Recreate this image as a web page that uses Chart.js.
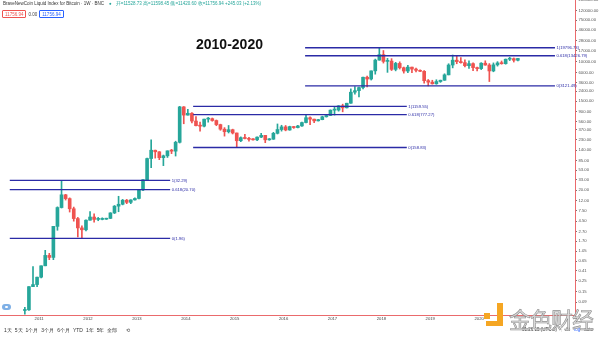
<!DOCTYPE html>
<html>
<head>
<meta charset="utf-8">
<script src="https://cdn.jsdelivr.net/npm/chart.js@4.4.0/dist/chart.umd.min.js"></script>
<style>
    html, body { margin: 0; padding: 0; background: #fff; }
    #wrap {
        position: relative; width: 600px; height: 337px; overflow: hidden;
        font-family: "Liberation Sans", Arial, sans-serif;
    }
    #chart { position: absolute; left: 0; top: 0; }
    .abs { position: absolute; white-space: nowrap; }
    .hdr { left: 3px; top: 1px; font-size: 4.5px; color: #333; }
    .hdr .dot { color: #26a69a; margin: 0 4px 0 5px; }
    .hdr .ohlc { color: #26a69a; }
    .row2 { left: 2px; top: 10px; font-size: 4.5px; color: #444; display: flex; gap: 2px; align-items: center; }
    .box { border: 0.6px solid; border-radius: 1px; padding: 0.5px 2px; }
    .box.red { color: #ef5350; border-color: #ef5350; }
    .box.blue { color: #2962ff; border-color: #2962ff; }
    .title { left: 196px; top: 36px; font-size: 14px; font-weight: bold; color: #111; }
    .tools { left: 4px; top: 327px; font-size: 5px; color: #333; display: flex; gap: 3px; }
    .status { left: 522px; top: 327px; font-size: 4.5px; color: #333; display: flex; gap: 4px; }
    .status .log { color: #2962ff; }
    .tv { left: 2px; top: 304px; width: 9px; height: 6px; border-radius: 3px; background: #7fb0e6; }
    .tv::after { content: ""; position: absolute; left: 3px; top: 2px; width: 3px; height: 2px; border-radius: 1px; background: #fff; }
    .wm { left: 509px; top: 302px; font-size: 22px; font-family: "Noto Sans CJK SC", sans-serif;
          color: rgba(215, 215, 215, 0.85); -webkit-text-stroke: 0.6px #8d8d8d; letter-spacing: -1px; }
    .ico { background: #f5a623; }
</style>
</head>
<body>
<div id="wrap">
    <canvas id="chart" width="600" height="337"></canvas>

    <div class="abs hdr">BraveNewCoin Liquid Index for Bitcoin · 1W · BNC<span class="dot">●</span><span class="ohlc">开=11528.73 高=11598.45 低=11420.60 收=11756.94 +245.03 (+2.13%)</span></div>
    <div class="abs row2"><span class="box red">11756.94</span><span>0.00</span><span class="box blue">11756.94</span></div>
    <div class="abs title">2010-2020</div>

    <div class="abs tv"></div>
    <div class="abs tools"><span>1天</span><span>5天</span><span>1个月</span><span>3个月</span><span>6个月</span><span>YTD</span><span>1年</span><span>5年</span><span>全部</span><span style="margin-left:6px">⟲</span></div>
    <div class="abs status"><span>01:26:15 (UTC-8)</span><span style="color:#ccc">|</span><span>%</span><span class="log">log</span><span>auto</span></div>

    <!-- watermark -->
    <div class="abs ico" style="left:484px; top:313px; width:6px; height:6px;"></div>
    <div class="abs ico" style="left:497px; top:303px; width:6px; height:18px;"></div>
    <div class="abs ico" style="left:486px; top:321px; width:17px; height:5px;"></div>
    <div class="abs wm">金色财经</div>
</div>

<script>
// monthly candles, BraveNewCoin BLX
const months = [
    "2010-09", "2010-10", "2010-11", "2010-12",
    "2011-01", "2011-02", "2011-03", "2011-04", "2011-05", "2011-06", "2011-07", "2011-08", "2011-09", "2011-10", "2011-11", "2011-12",
    "2012-01", "2012-02", "2012-03", "2012-04", "2012-05", "2012-06", "2012-07", "2012-08", "2012-09", "2012-10", "2012-11", "2012-12",
    "2013-01", "2013-02", "2013-03", "2013-04", "2013-05", "2013-06", "2013-07", "2013-08", "2013-09", "2013-10", "2013-11", "2013-12",
    "2014-01", "2014-02", "2014-03", "2014-04", "2014-05", "2014-06", "2014-07", "2014-08", "2014-09", "2014-10", "2014-11", "2014-12",
    "2015-01", "2015-02", "2015-03", "2015-04", "2015-05", "2015-06", "2015-07", "2015-08", "2015-09", "2015-10", "2015-11", "2015-12",
    "2016-01", "2016-02", "2016-03", "2016-04", "2016-05", "2016-06", "2016-07", "2016-08", "2016-09", "2016-10", "2016-11", "2016-12",
    "2017-01", "2017-02", "2017-03", "2017-04", "2017-05", "2017-06", "2017-07", "2017-08", "2017-09", "2017-10", "2017-11", "2017-12",
    "2018-01", "2018-02", "2018-03", "2018-04", "2018-05", "2018-06", "2018-07", "2018-08", "2018-09", "2018-10", "2018-11", "2018-12",
    "2019-01", "2019-02", "2019-03", "2019-04", "2019-05", "2019-06", "2019-07", "2019-08", "2019-09", "2019-10", "2019-11", "2019-12",
    "2020-01", "2020-02", "2020-03", "2020-04", "2020-05", "2020-06", "2020-07", "2020-08", "2020-09", "2020-10",
];

const opens = [
    0.06, 0.062, 0.19, 0.21,
    0.30, 0.52, 0.86, 0.78, 3.50, 8.70, 16.10, 13.40, 8.20, 5.10, 3.25, 2.97,
    4.72, 5.50, 4.90, 4.90, 4.95, 5.15, 6.70, 9.30, 10.20, 12.40, 11.20, 12.60,
    13.50, 20.40, 33.40, 93, 139, 129, 97, 106, 135, 133, 204, 1130,
    760, 830, 570, 455, 445, 625, 640, 585, 480, 385, 340, 375,
    320, 220, 255, 245, 235, 230, 262, 285, 230, 237, 315, 378,
    430, 370, 436, 416, 450, 530, 670, 625, 575, 610, 700, 745,
    965, 970, 1190, 1080, 1350, 2300, 2480, 2880, 4740, 4350, 6450, 10850,
    14150, 10200, 10350, 6930, 9250, 7500, 6400, 7730, 7030, 6620, 6320, 4020,
    3740, 3450, 3850, 4100, 5320, 8560, 10820, 10080, 9600, 8300, 9150, 7550,
    7200, 9350, 8550, 6430, 8630, 9460, 9140, 11330, 11650, 10780,
];

const highs = [
    0.07, 0.19, 0.50, 0.30,
    0.52, 1.10, 0.95, 3.50, 9.00, 32.29, 16.50, 13.90, 8.90, 5.40, 3.60, 4.80,
    7.20, 6.40, 5.40, 5.30, 5.20, 6.80, 9.60, 15.00, 12.90, 12.90, 12.70, 13.90,
    20.50, 33.50, 95, 230, 140, 130, 110, 135, 145, 215, 1159.55, 1150,
    1000, 860, 710, 540, 630, 680, 660, 600, 490, 415, 460, 385,
    320, 265, 300, 260, 245, 265, 315, 285, 245, 330, 495, 465,
    460, 445, 440, 465, 540, 780, 700, 630, 620, 720, 755, 980,
    1150, 1200, 1290, 1350, 2700, 3000, 2950, 4750, 4990, 6450, 11400, 19796.73,
    17250, 11800, 11650, 9750, 9990, 7760, 8480, 7760, 7410, 6790, 6560, 4250,
    4100, 4200, 4130, 5600, 9100, 13880, 13200, 12300, 10950, 10500, 9520, 7750,
    9580, 10500, 9180, 9480, 10080, 10400, 11450, 12450, 12050, 11760,
];

const lows = [
    0.05, 0.06, 0.19, 0.19,
    0.29, 0.52, 0.70, 0.70, 2.90, 8.50, 12.50, 7.00, 4.50, 2.10, 1.96, 2.80,
    4.70, 4.30, 4.60, 4.80, 4.90, 5.10, 6.50, 7.10, 9.90, 10.50, 10.50, 12.50,
    13.20, 19.60, 33.00, 60, 95, 88, 66, 98, 118, 105, 197, 500,
    760, 520, 450, 350, 430, 540, 565, 455, 365, 275, 320, 305,
    158.83, 210, 240, 215, 225, 220, 255, 200, 225, 235, 305, 350,
    355, 365, 400, 410, 440, 520, 480, 530, 570, 605, 690, 740,
    760, 920, 890, 1070, 1340, 2100, 1830, 2680, 2970, 4140, 5500, 10800,
    9400, 6000, 6550, 6450, 7050, 5780, 5880, 5880, 6120, 6200, 3560, 3121.49,
    3400, 3380, 3700, 4080, 5300, 7450, 9100, 9400, 7780, 7300, 6550, 6450,
    6870, 8450, 3850, 6170, 8120, 8900, 8900, 10600, 9880, 10400,
];

const closes = [
    0.062, 0.19, 0.21, 0.30,
    0.52, 0.86, 0.78, 3.50, 8.70, 16.10, 13.40, 8.20, 5.10, 3.25, 2.97, 4.72,
    5.50, 4.90, 4.90, 4.95, 5.15, 6.70, 9.30, 10.20, 12.40, 11.20, 12.60, 13.50,
    20.40, 33.40, 93, 139, 129, 97, 106, 135, 133, 204, 1130, 760,
    830, 570, 455, 445, 625, 640, 585, 480, 385, 340, 375, 320,
    220, 255, 245, 235, 230, 262, 285, 230, 237, 315, 378, 430,
    370, 436, 416, 450, 530, 670, 625, 575, 610, 700, 745, 965,
    970, 1190, 1080, 1350, 2300, 2480, 2880, 4740, 4350, 6450, 10850, 14150,
    10200, 10350, 6930, 9250, 7500, 6400, 7730, 7030, 6620, 6320, 4020, 3740,
    3450, 3850, 4100, 5320, 8560, 10820, 10080, 9600, 8300, 9150, 7550, 7200,
    9350, 8550, 6430, 8630, 9460, 9140, 11330, 11650, 10780, 11756.94,
];

// price axis labels (log scale) and year labels
const priceTicks = [
    200000, 120000, 75000, 46000, 28000, 17000, 10000, 6000, 3600, 2400, 1500, 900, 560,
    370, 230, 140, 85, 53, 33, 20, 12, 7.5, 4.5, 2.7, 1.7, 1.05, 0.65, 0.41, 0.25, 0.15, 0.09,
];
const years = [2011, 2012, 2013, 2014, 2015, 2016, 2017, 2018, 2019, 2020];

// fibonacci retracements: swing low / swing high and the span they are drawn over
const fibLevels = [1, 0.618, 0];
const fibLows = [1.96, 158.83, 3121.49];
const fibHighs = [32.29, 1159.55, 19796.73];
const fibFrom = [2010.40, 2014.15, 2016.44];
const fibTo = [2013.68, 2018.52, 2021.55];

const UP = "#26a69a";
const DOWN = "#ef5350";
const FIB = "#2b2ba6";
const AXIS_RED = "#ea6a6c";

const toYear = (m) => {
    const [y, mo] = m.split("-").map(Number);
    return y + (mo - 0.5) / 12;
};
const fibValue = (i, lv) => fibLows[i] + lv * (fibHighs[i] - fibLows[i]);

const candleColors = closes.map((c, i) => (c >= opens[i] ? UP : DOWN));
const bodies = months.map((m, i) => ({ x: toYear(m), y: [opens[i], closes[i]] }));
const wicks = months.map((m, i) => ({ x: toYear(m), y: [lows[i], highs[i]] }));

const fibDatasets = [];
fibLows.forEach((_, i) => {
    fibLevels.forEach((lv) => {
        const v = fibValue(i, lv);
        fibDatasets.push({
            type: "line",
            data: [{ x: fibFrom[i], y: v }, { x: fibTo[i], y: v }],
            borderColor: FIB,
            borderWidth: 1.4,
            pointRadius: 0,
            order: -1,
        });
    });
});

const fibLabels = {
    id: "fibLabels",
    afterDatasetsDraw(chart) {
        const { ctx, scales: { x, y } } = chart;
        ctx.save();
        ctx.font = '4.2px "Liberation Sans", sans-serif';
        ctx.fillStyle = FIB;
        ctx.textBaseline = "middle";
        fibLows.forEach((_, i) => {
            fibLevels.forEach((lv) => {
                const v = fibValue(i, lv);
                ctx.fillText(`${lv}(${v.toFixed(2)})`, x.getPixelForValue(fibTo[i]) + 1.5, y.getPixelForValue(v));
            });
        });
        ctx.restore();
    },
};

new Chart(document.getElementById("chart"), {
    type: "bar",
    data: {
        datasets: [
            {
                data: bodies,
                backgroundColor: candleColors,
                barThickness: 3,
                minBarLength: 1,
                grouped: false,
                order: 0,
            },
            {
                data: wicks,
                backgroundColor: candleColors,
                barThickness: 1,
                grouped: false,
                order: 1,
            },
            ...fibDatasets,
        ],
    },
    options: {
        responsive: false,
        animation: false,
        devicePixelRatio: 1,
        layout: { padding: { left: 0, top: 0, right: 0, bottom: 14 } },
        plugins: { legend: { display: false }, tooltip: { enabled: false } },
        scales: {
            x: {
                type: "linear",
                min: 2010.2,
                max: 2021.96,
                offset: false,
                afterBuildTicks: (s) => { s.ticks = years.map((v) => ({ value: v })); },
                afterFit: (s) => { s.height = 8; s.paddingLeft = 0; s.paddingRight = 0; },
                ticks: {
                    callback: (v) => String(v),
                    font: { size: 4.2, family: "Liberation Sans" },
                    color: "#444",
                    padding: 1.5,
                    maxRotation: 0,
                    autoSkip: false,
                },
                grid: { display: false, drawTicks: false },
                border: { display: true, color: AXIS_RED, width: 1 },
            },
            y: {
                type: "logarithmic",
                position: "right",
                min: 0.0482,
                max: 198500,
                afterBuildTicks: (s) => { s.ticks = priceTicks.map((v) => ({ value: v })); },
                afterFit: (s) => { s.width = 25; s.paddingTop = 0; s.paddingBottom = 0; },
                ticks: {
                    callback: (v) => v.toFixed(2),
                    font: { size: 4.2, family: "Liberation Sans" },
                    color: "#555",
                    padding: 1.5,
                    autoSkip: false,
                },
                grid: { display: true, drawOnChartArea: false, drawTicks: true, tickLength: 2, color: "#777" },
                border: { display: true, color: AXIS_RED, width: 1 },
            },
        },
    },
    plugins: [fibLabels],
});
</script>
</body>
</html>
